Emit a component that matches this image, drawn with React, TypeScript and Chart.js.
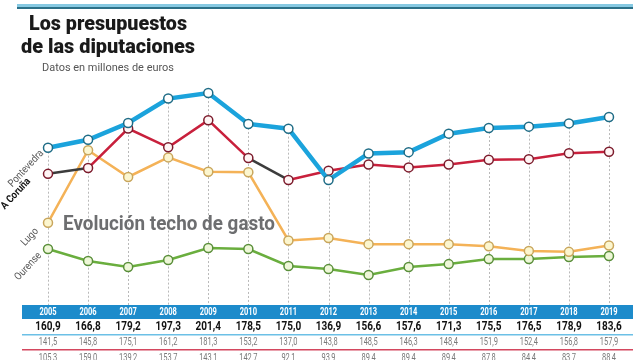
import { useEffect, useRef } from 'react';
import { Chart, registerables } from 'chart.js';

Chart.register(...registerables);

const years = ['2005', '2006', '2007', '2008', '2009', '2010', '2011', '2012', '2013', '2014', '2015', '2016', '2017', '2018', '2019'];
const pontevedra = [160.9, 166.8, 179.2, 197.3, 201.4, 178.5, 175.0, 136.9, 156.6, 157.6, 171.3, 175.5, 176.5, 178.9, 183.6];
const coruna = [141.5, 145.8, 175.1, 161.2, 181.3, 153.2, 137.0, 143.8, 148.5, 146.3, 148.4, 151.9, 152.4, 156.8, 157.9];
const lugo = [105.3, 159.0, 139.2, 153.7, 143.1, 142.7, 92.1, 93.9, 89.4, 89.4, 89.4, 87.8, 84.4, 83.7, 88.4];
const ourense = [85.8, 76.9, 72.4, 77.6, 86.5, 85.8, 73.2, 70.9, 66.5, 72.4, 74.6, 78.3, 78.3, 79.8, 80.6];
const seriesNames = ['Pontevedra', 'A Coruña', 'Lugo', 'Ourense'];
const titleLines = ['Los presupuestos', 'de las diputaciones'];
const subtitle = 'Datos en millones de euros';
const annotation = 'Evolución techo de gasto';

const fmt = (v: number) => v.toFixed(1).replace('.', ',');

function txt(
  ctx: CanvasRenderingContext2D, s: string, x: number, y: number, font: string, color: string,
  align: CanvasTextAlign = 'center', sx = 1, fitW = 0, baseline: CanvasTextBaseline = 'middle'
) {
  ctx.save();
  ctx.font = font;
  ctx.fillStyle = color;
  ctx.textBaseline = baseline;
  ctx.textAlign = align;
  let scale = sx;
  if (fitW) scale = fitW / ctx.measureText(s).width;
  ctx.translate(x, y);
  ctx.scale(scale, 1);
  ctx.fillText(s, 0, 0);
  ctx.restore();
}

const decorPlugin = {
  id: 'decor',
  beforeDatasetsDraw(chart: any) {
    const ctx: CanvasRenderingContext2D = chart.ctx;
    const xs = chart.scales.x;
    ctx.save();
    ctx.strokeStyle = '#b9b9b9';
    ctx.lineWidth = 1;
    ctx.setLineDash([2, 2]);
    years.forEach((_, i) => {
      const x = Math.round(xs.getPixelForValue(i)) + 0.5;
      let top = Infinity;
      chart.data.datasets.forEach((_d: any, di: number) => {
        const p = chart.getDatasetMeta(di).data[i];
        if (p && p.y < top) top = p.y;
      });
      ctx.beginPath();
      ctx.moveTo(x, top);
      ctx.lineTo(x, 305);
      ctx.stroke();
    });
    ctx.restore();
    txt(ctx, annotation, 63, 230, 'bold 20px Roboto', '#6d6e70', 'left', 1, 212, 'alphabetic');
  },
  afterDraw(chart: any) {
    const ctx: CanvasRenderingContext2D = chart.ctx;
    const xs = chart.scales.x;
    ctx.save();
    ctx.fillStyle = '#86c9e2';
    ctx.fillRect(17, 4, 616, 3);
    ctx.fillStyle = '#2b7088';
    ctx.fillRect(17, 7, 616, 2);
    ctx.restore();
    txt(ctx, titleLines[0], 29, 30, '900 20px Roboto', '#1a1a1a', 'left', 1, 158, 'alphabetic');
    txt(ctx, titleLines[1], 21, 53, '900 20px Roboto', '#1a1a1a', 'left', 1, 174, 'alphabetic');
    txt(ctx, subtitle, 42, 71, '11.5px Roboto', '#555555', 'left', 1, 132, 'alphabetic');

    const L = 22, R = 633;
    ctx.save();
    ctx.fillStyle = '#1d8bcb';
    ctx.fillRect(L, 305, R - L, 14);
    ctx.fillStyle = '#6cc0e6';
    ctx.fillRect(L, 334, R - L, 1.5);
    ctx.fillStyle = '#d4475f';
    ctx.fillRect(L, 349, R - L, 1.5);
    ctx.restore();
    years.forEach((y, i) => {
      const x = xs.getPixelForValue(i);
      txt(ctx, y, x, 312, 'bold 10px Roboto', '#ffffff', 'center', 0.75);
      txt(ctx, fmt(pontevedra[i]), x, 327, 'bold 12.5px Roboto', '#111111', 'center', 0.8);
      txt(ctx, fmt(coruna[i]), x, 342, '11px Roboto', '#7a7a7a', 'center', 0.68);
      txt(ctx, fmt(lugo[i]), x, 358, '11px Roboto', '#7a7a7a', 'center', 0.68);
    });

    const ang = -47 * Math.PI / 180;
    const offs = [[-6, 4], [-19, 6], [-11, 7], [-8, 5]];
    seriesNames.forEach((name, di) => {
      const p = chart.getDatasetMeta(di).data[0];
      ctx.save();
      ctx.translate(p.x + offs[di][0], p.y + offs[di][1]);
      ctx.rotate(ang);
      ctx.font = di === 1 ? 'bold 10.5px Roboto' : '10.5px Roboto';
      ctx.fillStyle = di === 1 ? '#111111' : '#555555';
      ctx.textAlign = 'right';
      ctx.textBaseline = 'middle';
      ctx.scale(0.88, 1);
      ctx.fillText(name, 0, 0);
      ctx.restore();
    });
  },
};

export default function App() {
  const ref = useRef<HTMLCanvasElement>(null);
  useEffect(() => {
    const chart = new Chart(ref.current!, {
      type: 'line',
      data: {
        labels: years,
        datasets: [
          {
            label: seriesNames[0], data: pontevedra, borderColor: '#1ba3dc', borderWidth: 4.5,
            pointRadius: 4.5, pointBorderWidth: 1.5, pointBorderColor: '#1f6c86', pointBackgroundColor: '#ffffff',
            tension: 0, clip: false,
          },
          {
            label: seriesNames[1], data: coruna, borderColor: '#c8203c', borderWidth: 2.5,
            pointRadius: 4.5, pointBorderWidth: 1.5, pointBorderColor: '#7c1b2c', pointBackgroundColor: '#fff5f5',
            tension: 0, clip: false,
            segment: {
              borderColor: (c: any) => (c.p0DataIndex === 0 || c.p0DataIndex === 5 ? '#3c3c3c' : undefined),
            },
          },
          {
            label: seriesNames[2], data: lugo, borderColor: '#f4b257', borderWidth: 2.5,
            pointRadius: 4.5, pointBorderWidth: 1.5, pointBorderColor: '#c9a65c', pointBackgroundColor: '#fcf6cf',
            tension: 0, clip: false,
          },
          {
            label: seriesNames[3], data: ourense, borderColor: '#6aae3e', borderWidth: 2.5,
            pointRadius: 4.5, pointBorderWidth: 1.5, pointBorderColor: '#5a8f3a', pointBackgroundColor: '#eef7d8',
            tension: 0, clip: false,
          },
        ] as any,
      },
      options: {
        animation: false,
        responsive: false,
        devicePixelRatio: 1,
        layout: { padding: { left: 48, right: 31, top: 60, bottom: 60 } },
        scales: {
          x: { type: 'category', display: false, offset: false },
          y: { type: 'linear', display: false, min: 48, max: 225.9 },
        },
        plugins: { legend: { display: false }, tooltip: { enabled: false } },
      },
      plugins: [decorPlugin],
    });
    return () => chart.destroy();
  }, []);
  return (
    <div style={{ position: 'absolute', left: 0, top: 0, width: 640, height: 360, background: '#ffffff' }}>
      <canvas ref={ref} width={640} height={360} style={{ display: 'block' }} />
    </div>
  );
}
